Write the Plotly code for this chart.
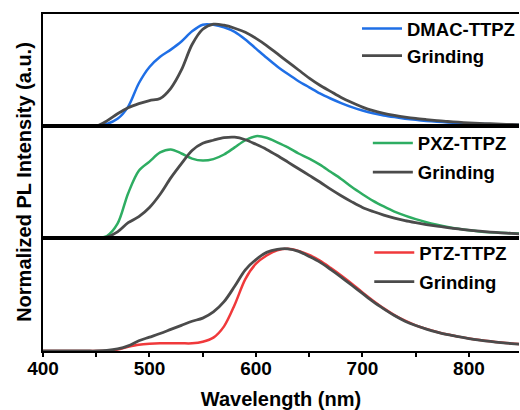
import plotly.graph_objects as go

# Emission wavelength grid (nm)
wavelength = [400, 440, 450, 460, 470, 480, 490, 500, 510, 520, 530, 540, 550,
              560, 570, 580, 590, 600, 610, 620, 630, 640, 650, 660, 670, 680,
              690, 700, 710, 720, 730, 740, 750, 760, 770, 780, 790, 800, 810,
              820, 830, 840, 850]

# Normalized PL spectra, pristine vs. ground samples
dmac_pristine = [0, 0, 0, 0.02, 0.07, 0.19, 0.42, 0.58, 0.68, 0.75, 0.83, 0.93, 0.995,
                 0.995, 0.97, 0.925, 0.85, 0.76, 0.67, 0.585, 0.51, 0.44, 0.38,
                 0.32, 0.27, 0.225, 0.185, 0.152, 0.125, 0.104, 0.087, 0.072, 0.06,
                 0.05, 0.042, 0.035, 0.029, 0.024, 0.02, 0.017, 0.014, 0.012, 0.01]
dmac_ground = [0, 0, 0, 0.05, 0.12, 0.18, 0.22, 0.25, 0.27, 0.37, 0.55, 0.80, 0.95,
               1.0, 0.99, 0.96, 0.92, 0.86, 0.79, 0.71, 0.63, 0.55, 0.47,
               0.40, 0.34, 0.28, 0.23, 0.185, 0.15, 0.125, 0.105, 0.088, 0.074,
               0.063, 0.053, 0.044, 0.037, 0.031, 0.026, 0.022, 0.018, 0.015, 0.013]

pxz_pristine = [0, 0, 0, 0.02, 0.14, 0.44, 0.66, 0.75, 0.84, 0.87, 0.83, 0.78, 0.76,
                0.775, 0.82, 0.89, 0.96, 1.0, 0.985, 0.94, 0.89, 0.83, 0.78,
                0.72, 0.65, 0.58, 0.50, 0.43, 0.365, 0.31, 0.26, 0.22, 0.185,
                0.155, 0.13, 0.108, 0.09, 0.076, 0.065, 0.057, 0.051, 0.047, 0.044]
pxz_ground = [0, 0, 0, 0.01, 0.06, 0.15, 0.21, 0.30, 0.43, 0.59, 0.73, 0.86, 0.93,
              0.96, 0.985, 0.99, 0.965, 0.92, 0.87, 0.81, 0.745, 0.68, 0.615,
              0.55, 0.48, 0.415, 0.355, 0.30, 0.26, 0.225, 0.195, 0.17, 0.15,
              0.132, 0.116, 0.102, 0.089, 0.077, 0.067, 0.058, 0.051, 0.045, 0.04]

ptz_pristine = [0, 0, 0, 0, 0.015, 0.04, 0.06, 0.07, 0.075, 0.075, 0.075, 0.075, 0.09,
                0.13, 0.24, 0.45, 0.70, 0.85, 0.93, 0.98, 0.995, 0.975, 0.935,
                0.88, 0.81, 0.735, 0.655, 0.57, 0.49, 0.415, 0.35, 0.295, 0.25,
                0.215, 0.185, 0.16, 0.14, 0.122, 0.107, 0.094, 0.083, 0.073, 0.065]
ptz_ground = [0, 0, 0, 0.005, 0.02, 0.05, 0.10, 0.135, 0.17, 0.21, 0.25, 0.29, 0.32,
              0.38, 0.48, 0.63, 0.79, 0.89, 0.96, 0.99, 0.995, 0.97, 0.92,
              0.865, 0.795, 0.72, 0.64, 0.56, 0.48, 0.41, 0.345, 0.29, 0.248,
              0.213, 0.184, 0.159, 0.139, 0.121, 0.106, 0.093, 0.082, 0.072, 0.064]

names = ["DMAC-TTPZ", "PXZ-TTPZ", "PTZ-TTPZ"]
ground_name = "Grinding"
colors = ["#1F6FE6", "#2EAD62", "#F0393B"]
grey = "#4B4B4B"

FONT = "Liberation Sans, Arial, sans-serif"

panels = [(dmac_pristine, dmac_ground), (pxz_pristine, pxz_ground), (ptz_pristine, ptz_ground)]
legend_ids = ["legend", "legend2", "legend3"]

fig = go.Figure()
for i, (pristine, ground) in enumerate(panels):
    k = "" if i == 0 else str(i + 1)
    fig.add_trace(go.Scatter(
        x=wavelength, y=pristine, name=names[i], mode="lines",
        line=dict(color=colors[i], width=2.5, shape="spline", smoothing=0.9),
        xaxis="x" + k, yaxis="y" + k, legend=legend_ids[i],
        legendgroup="p%d" % i))
    fig.add_trace(go.Scatter(
        x=wavelength, y=ground, name=ground_name, mode="lines",
        line=dict(color=grey, width=2.8, shape="spline", smoothing=0.9),
        xaxis="x" + k, yaxis="y" + k, legend=legend_ids[i],
        legendgroup="g%d" % i))

# panel boundaries in paper fraction (plot area spans 14..351 px)
doms = [[0.6677, 1.0], [0.3353, 0.6677], [0.0, 0.3353]]

common_x = dict(range=[400, 847], showline=True, mirror=True, linecolor="black",
                linewidth=2, showgrid=False, zeroline=False)
common_y = dict(range=[0, 1.1], showline=True, linecolor="black", linewidth=2,
                showgrid=False, zeroline=False, ticks="", showticklabels=False)

layout = dict(
    width=520, height=410,
    margin=dict(l=43, r=0, t=14, b=59),
    paper_bgcolor="white", plot_bgcolor="white",
    font=dict(family=FONT, color="black", size=18, weight="bold"),
)
for i in range(3):
    k = "" if i == 0 else str(i + 1)
    xa = dict(common_x, anchor="y" + k)
    if i < 2:
        xa.update(showticklabels=False, ticks="", matches="x3")
    else:
        xa.update(ticks="outside", ticklen=4, tickwidth=1.5, tickcolor="black",
                  dtick=100, tick0=400, ticklabelstandoff=-5,
                  tickfont=dict(family=FONT, size=19, weight="bold"),
                  minor=dict(ticks="outside", dtick=50, ticklen=4, tickwidth=1.5,
                             tickcolor="black"),
                  title=dict(text="Wavelength (nm)", standoff=14,
                             font=dict(family=FONT, size=20, weight="bold")))
    ya = dict(common_y, domain=doms[i], anchor="x" + k)
    if i == 1:
        ya.update(title=dict(text="Normalized PL Intensity (a.u.)", standoff=4,
                             font=dict(family=FONT, size=20, weight="bold")))
    layout["xaxis" + k] = xa
    layout["yaxis" + k] = ya

legend_pos = [(0.659, 1.012, 0), (0.681, 0.672, 2), (0.684, 0.347, 2)]
for lid, (lx, ly, gap) in zip(legend_ids, legend_pos):
    layout[lid] = dict(x=lx, y=ly, xanchor="left", yanchor="top",
                       bgcolor="rgba(0,0,0,0)", borderwidth=0,
                       font=dict(family=FONT, size=18.5, weight="bold"),
                       itemwidth=40, tracegroupgap=gap)

fig.update_layout(**layout)
fig.write_html("out.html")
